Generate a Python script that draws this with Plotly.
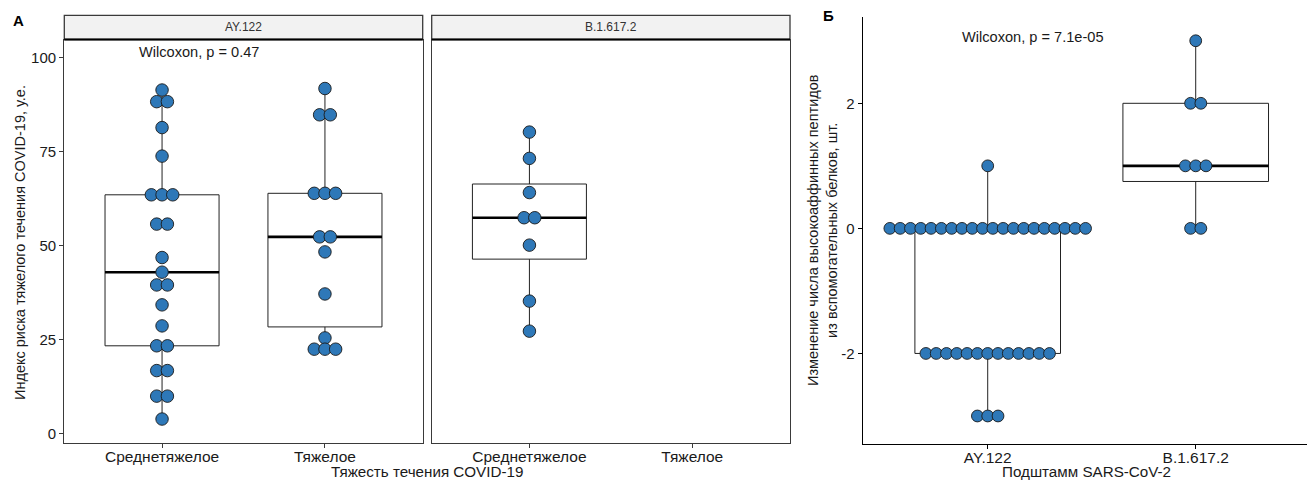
import numpy as np
from collections import Counter
import plotly.graph_objects as go

# ---------------- data ----------------
severity_labels = ["Среднетяжелое", "Тяжелое"]
strain_labels = ["AY.122", "B.1.617.2"]

# Panel A: risk index by severity, faceted by strain
ay_moderate = [91.4, 88.3, 88.3, 81.4, 73.8, 63.5, 63.5, 63.5, 55.7, 55.7, 46.8, 42.9,
               39.5, 39.5, 34.2, 28.6, 23.3, 23.3, 16.7, 16.7, 9.9, 9.9, 3.8]
ay_severe = [91.8, 84.8, 84.8, 63.9, 63.9, 63.9, 52.3, 52.3, 48.3, 37.1, 25.4, 22.4, 22.4, 22.4]
delta_moderate = [80.2, 73.2, 64.1, 57.4, 57.4, 50.1, 35.2, 27.2]
delta_severe = []

# Panel B: change in number of high-affinity peptides
peptides_ay = [1,
               0, 0, 0, 0, 0, 0, 0, 0, 0, 0, 0, 0, 0, 0, 0, 0, 0, 0, 0, 0,
               -2, -2, -2, -2, -2, -2, -2, -2, -2, -2, -2, -2, -2,
               -3, -3, -3]
peptides_delta = [3, 2, 2, 1, 1, 1, 0, 0]

a_yticks = [0, 25, 50, 75, 100]
b_yticks = [-2, 0, 2]
b_yticklabels = ["-2", "0", "2"]

p_text_a = "Wilcoxon, p = 0.47"
p_text_b = "Wilcoxon, p = 7.1e-05"

# ---------------- styling ----------------
W, H = 1307, 482
FONT = "Liberation Sans, Arial, sans-serif"
DOT_FILL = "#2E78B8"
DOT_LINE = "#1a1a1a"
BOX_LINE = "#222222"
FRAME = "#3a3a3a"
TXT = "#1a1a1a"

def px_x(p):
    return p / W

def px_y(p):
    return 1 - p / H

# axis geometry (pixels)
A1_X = (64.3, 422.7)
A2_X = (431.7, 790.0)
A_Y = (39.5, 442.7)
B_X = (862.9, 1307.0)
B_Y = (17.0, 443.5)
A_XRANGE = [0.4, 2.6]
A_YRANGE = [-2.5, 104.85]
B_XRANGE = [0.4, 2.535]
B_YRANGE = [-3.44, 3.38]

a_ppu = (A1_X[1] - A1_X[0]) / (A_XRANGE[1] - A_XRANGE[0])
b_ppu = (B_X[1] - B_X[0]) / (B_XRANGE[1] - B_XRANGE[0])


def dot_positions(values, center, step):
    xs, ys = [], []
    counts = Counter(values)
    for v, n in counts.items():
        for i in range(n):
            xs.append(center + (i - (n - 1) / 2) * step)
            ys.append(v)
    return xs, ys


def box_stats(values):
    arr = np.asarray(values, dtype=float)
    q1, med, q3 = np.percentile(arr, [25, 50, 75])
    iqr = q3 - q1
    lo = arr[arr >= q1 - 1.5 * iqr].min()
    hi = arr[arr <= q3 + 1.5 * iqr].max()
    return q1, med, q3, lo, hi


fig = go.Figure()


def add_group(values, center, xa, ya, step, msize, width=0.7):
    if len(values) == 0:
        return
    q1, med, q3, lo, hi = box_stats(values)
    fig.add_trace(go.Box(
        x=[center], q1=[q1], median=[med], q3=[q3], lowerfence=[lo], upperfence=[hi],
        width=width, whiskerwidth=0, fillcolor="white",
        line=dict(color=BOX_LINE, width=1), boxpoints=False,
        xaxis=xa, yaxis=ya, showlegend=False, hoverinfo="skip"))
    fig.add_trace(go.Scatter(
        x=[center - width / 2, center + width / 2], y=[med, med], mode="lines",
        line=dict(color="black", width=2.6), xaxis=xa, yaxis=ya,
        showlegend=False, hoverinfo="skip"))
    xs, ys = dot_positions(values, center, step)
    fig.add_trace(go.Scatter(
        x=xs, y=ys, mode="markers",
        marker=dict(size=msize, color=DOT_FILL, line=dict(color=DOT_LINE, width=0.9)),
        xaxis=xa, yaxis=ya, showlegend=False, hoverinfo="skip"))


a_step = 10.7 / a_ppu
b_step = 10.3 / b_ppu

add_group(ay_moderate, 1, "x", "y", a_step, 12.5)
add_group(ay_severe, 2, "x", "y", a_step, 12.5)
add_group(delta_moderate, 1, "x2", "y2", a_step, 12.5)
add_group(delta_severe, 2, "x2", "y2", a_step, 12.5)
add_group(peptides_ay, 1, "x3", "y3", b_step, 11.8)
add_group(peptides_delta, 2, "x3", "y3", b_step, 11.8)

xtickfont = dict(family=FONT, size=15.5, color=TXT)
ytickfont = dict(family=FONT, size=15, color=TXT)

common_a_x = dict(range=A_XRANGE, tickvals=[1, 2], ticktext=severity_labels,
                  showline=True, mirror=True, linecolor=FRAME, linewidth=1.3,
                  ticks="outside", ticklen=4, tickcolor=FRAME, tickwidth=1,
                  ticklabelstandoff=-4,
                  showgrid=False, zeroline=False, tickfont=xtickfont, fixedrange=True)
common_a_y = dict(range=A_YRANGE, showline=True, mirror=True, linecolor=FRAME, linewidth=1.3,
                  showgrid=False, zeroline=False, domain=[px_y(A_Y[1]), px_y(A_Y[0])],
                  fixedrange=True)

fig.update_layout(
    width=W, height=H,
    margin=dict(l=0, r=0, t=0, b=0),
    paper_bgcolor="white", plot_bgcolor="white",
    font=dict(family=FONT, size=14, color=TXT),
    showlegend=False,
    xaxis=dict(domain=[px_x(A1_X[0]), px_x(A1_X[1])], anchor="y", **common_a_x),
    xaxis2=dict(domain=[px_x(A2_X[0]), px_x(A2_X[1])], anchor="y2", **common_a_x),
    yaxis=dict(anchor="x", tickvals=a_yticks, ticks="outside", ticklen=4,
               tickcolor=FRAME, tickfont=ytickfont, **common_a_y),
    yaxis2=dict(anchor="x2", showticklabels=False, ticks="", **common_a_y),
    xaxis3=dict(domain=[px_x(B_X[0]), px_x(B_X[1])], anchor="y3", range=B_XRANGE,
                tickvals=[1, 2], ticktext=strain_labels, showline=True, linecolor="black",
                linewidth=1.4, ticks="outside", ticklen=4, tickcolor="black",
                ticklabelstandoff=-4,
                showgrid=False, zeroline=False, tickfont=xtickfont, fixedrange=True),
    yaxis3=dict(domain=[px_y(B_Y[1]), px_y(B_Y[0])], anchor="x3", range=B_YRANGE,
                tickvals=b_yticks, ticktext=b_yticklabels, showline=True, linecolor="black",
                linewidth=1.4, ticks="outside", ticklen=4, tickcolor="black", showgrid=False,
                zeroline=False, tickfont=ytickfont, fixedrange=True),
)

# facet strips
shapes = []
annotations = []
strip_top = px_y(15.3)
strip_bot = px_y(A_Y[0])
for (x0, x1), lab in zip([A1_X, A2_X], strain_labels):
    shapes.append(dict(type="rect", xref="paper", yref="paper", x0=px_x(x0), x1=px_x(x1),
                       y0=strip_bot, y1=strip_top, fillcolor="#F2F2F2",
                       line=dict(color=FRAME, width=1.3), layer="below"))
    shapes.append(dict(type="line", xref="paper", yref="paper", x0=px_x(x0), x1=px_x(x1),
                       y0=strip_bot, y1=strip_bot, line=dict(color="black", width=2)))
    annotations.append(dict(text=lab, xref="paper", yref="paper",
                            x=px_x((x0 + x1) / 2), y=(strip_top + strip_bot) / 2,
                            showarrow=False, font=dict(family=FONT, size=12, color="#333333"),
                            xanchor="center", yanchor="middle"))

# p-value labels
annotations.append(dict(text=p_text_a, xref="x", yref="y", x=0.847, y=101.6,
                        xanchor="left", yanchor="middle", showarrow=False,
                        font=dict(family=FONT, size=14.6, color=TXT)))
annotations.append(dict(text=p_text_b, xref="x3", yref="y3", x=0.867, y=3.06,
                        xanchor="left", yanchor="middle", showarrow=False,
                        font=dict(family=FONT, size=14.6, color=TXT)))

# axis titles
annotations += [
    dict(text="Тяжесть течения COVID-19", xref="paper", yref="paper",
         x=px_x(427), y=px_y(471.5), showarrow=False, xanchor="center", yanchor="middle",
         font=dict(family=FONT, size=15.2, color=TXT)),
    dict(text="Подштамм SARS-CoV-2", xref="paper", yref="paper",
         x=px_x(1086), y=px_y(471), showarrow=False, xanchor="center", yanchor="middle",
         font=dict(family=FONT, size=15.2, color=TXT)),
    dict(text="Индекс риска тяжелого течения COVID-19, у.е.", xref="paper", yref="paper",
         x=px_x(20), y=px_y(243), showarrow=False, textangle=-90,
         xanchor="center", yanchor="middle",
         font=dict(family=FONT, size=14.5, color=TXT)),
    dict(text="Изменение числа высокоаффинных пептидов<br>из вспомогательных белков, шт.",
         xref="paper", yref="paper", x=px_x(822), y=px_y(230), showarrow=False,
         textangle=-90, xanchor="center", yanchor="middle",
         font=dict(family=FONT, size=14.5, color=TXT)),
    dict(text="<b>А</b>", xref="paper", yref="paper", x=px_x(18), y=px_y(21),
         showarrow=False, xanchor="center", yanchor="middle",
         font=dict(family=FONT, size=15, color="black")),
    dict(text="<b>Б</b>", xref="paper", yref="paper", x=px_x(828), y=px_y(16),
         showarrow=False, xanchor="center", yanchor="middle",
         font=dict(family=FONT, size=15, color="black")),
]

fig.update_layout(shapes=shapes, annotations=annotations)
fig.write_html("out.html")
